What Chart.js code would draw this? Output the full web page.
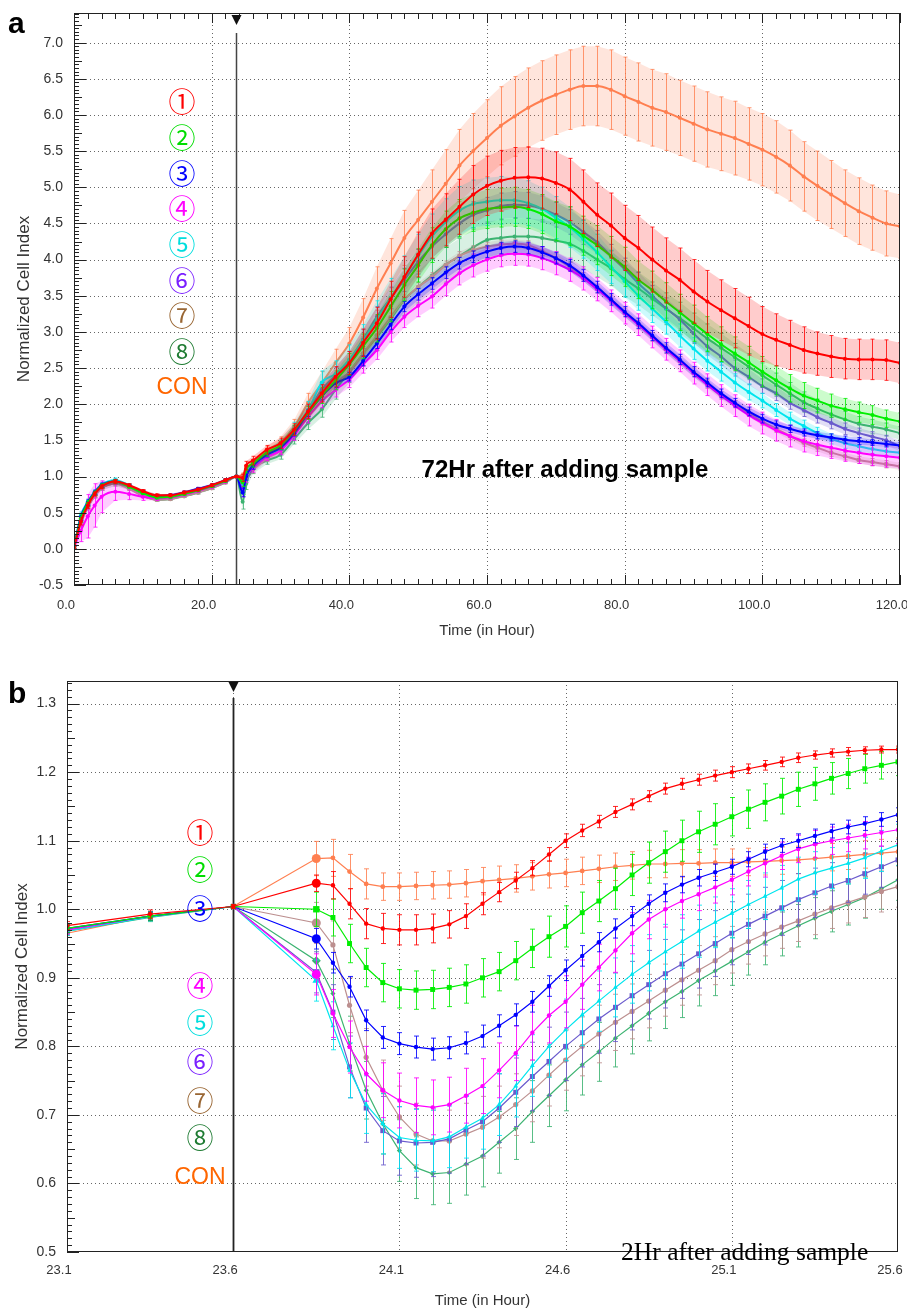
<!DOCTYPE html>
<html>
<head>
<meta charset="utf-8">
<script src="https://cdn.jsdelivr.net/npm/chart.js@4.4.0/dist/chart.umd.min.js"></script>
<style>
  body { margin: 0; background: #fff; }
  #wrap { position: relative; width: 907px; height: 1311px; overflow: hidden; background: #fff; }
  .box { position: absolute; left: 0; width: 907px; }
  #boxA { top: 0; height: 650px; }
  #boxB { top: 650px; height: 661px; }
  .tag { position: absolute; font: bold 30px 'Liberation Sans', Arial, sans-serif; line-height: 30px; color: #000; }
</style>
</head>
<body>
<div id="wrap">
  <div class="box" id="boxA"><canvas id="chartA"></canvas></div>
  <div class="box" id="boxB"><canvas id="chartB"></canvas></div>
  <div class="tag" style="left:8px;top:8px">a</div>
  <div class="tag" style="left:8px;top:678px">b</div>
</div>
<script>
// ---------- panel a : whole run (hours) ----------
const timeA = [0,1,2,3,4,6,8,10,12,14,16,18,20,22,23.6,24.5,25,26,
  28,30,32,34,36,38,40,42,44,46,48,50,52,54,56,58,60,62,64,66,68,70,72,74,76,78,80,82,84,86,
  88,90,92,94,96,98,100,102,104,106,108,110,112,114,116,118,120];
const ticksXA = [0,20,40,60,80,100,120];
const ticksYA = [-0.5,0,0.5,1,1.5,2,2.5,3,3.5,4,4.5,5,5.5,6,6.5,7];

const s1A = [0.02,0.38,0.6,0.76,0.86,0.93,0.88,0.8,0.74,0.74,0.78,0.82,0.88,0.95,1.0, 0.98,1.15,1.22,
  1.37,1.46,1.65,1.9,2.15,2.38,2.57,2.85,3.12,3.45, 3.76,4.07,4.36,4.55,4.73,4.9,5.02,5.09,5.13,5.14,
  5.12,5.06,4.97,4.8,4.62,4.47,4.3,4.16,4.0,3.85, 3.72,3.56,3.42,3.3,3.19,3.08,2.97,2.89,2.82,2.75,
  2.7,2.66,2.63,2.62,2.62,2.61,2.57];
const s2A = [0.02,0.42,0.63,0.77,0.87,0.93,0.86,0.77,0.71,0.72,0.76,0.81,0.87,0.94,1.0, 0.92,1.1,1.18,
  1.33,1.43,1.64,1.88,2.12,2.33,2.55,2.8,3.05,3.35, 3.65,3.92,4.2,4.42,4.57,4.65,4.7,4.72,4.73,4.7,
  4.63,4.53,4.46,4.33,4.2,4.05,3.9,3.72,3.58,3.42, 3.27,3.12,2.97,2.83,2.7,2.58,2.45,2.33,2.22,2.12,
  2.05,1.98,1.93,1.89,1.85,1.8,1.76];
const s3A = [0.02,0.44,0.64,0.78,0.88,0.93,0.87,0.79,0.73,0.74,0.78,0.83,0.88,0.95,1.0, 0.78,1.0,1.15,
  1.3,1.4,1.6,1.88,2.11,2.29,2.38,2.6,2.84,3.1, 3.35,3.52,3.67,3.82,3.95,4.04,4.11,4.16,4.18,4.16,
  4.1,4.02,3.92,3.78,3.62,3.45,3.28,3.12,2.95,2.78, 2.62,2.45,2.3,2.15,2.02,1.9,1.8,1.72,1.66,1.61,
  1.57,1.54,1.51,1.49,1.47,1.45,1.43];
const s4A = [0.02,0.25,0.45,0.6,0.72,0.79,0.76,0.72,0.7,0.71,0.75,0.8,0.86,0.93,1.0, 0.82,1.0,1.12,
  1.27,1.36,1.57,1.82,2.04,2.2,2.34,2.55,2.75,3.0, 3.21,3.36,3.49,3.66,3.81,3.92,4.0,4.06,4.08,4.07,
  4.02,3.95,3.86,3.74,3.59,3.43,3.26,3.1,2.93,2.76, 2.6,2.43,2.27,2.12,1.98,1.85,1.74,1.64,1.56,1.49,
  1.44,1.4,1.36,1.33,1.3,1.28,1.26];
const s5A = [0.02,0.46,0.65,0.79,0.89,0.95,0.88,0.78,0.72,0.73,0.77,0.82,0.87,0.94,1.0, 0.9,1.05,1.17,
  1.32,1.44,1.66,1.92,2.3,2.42,2.62,2.88,3.18,3.47, 3.76,4.05,4.32,4.52,4.68,4.77,4.8,4.82,4.82,4.78,
  4.7,4.58,4.45,4.28,4.1,3.9,3.7,3.5,3.32,3.14, 2.95,2.77,2.6,2.45,2.3,2.17,2.05,1.92,1.8,1.7,
  1.6,1.52,1.46,1.42,1.38,1.35,1.33];
const s6A = [0.02,0.42,0.62,0.77,0.87,0.93,0.87,0.78,0.72,0.73,0.77,0.82,0.87,0.94,1.0, 0.85,1.02,1.16,
  1.3,1.42,1.64,1.9,2.2,2.4,2.61,2.9,3.21,3.47, 3.72,3.97,4.18,4.35,4.5,4.62,4.68,4.74,4.76,4.75,
  4.7,4.62,4.52,4.38,4.24,4.05,3.87,3.67,3.5,3.33, 3.17,2.98,2.8,2.66,2.5,2.38,2.25,2.15,2.02,1.92,
  1.82,1.74,1.66,1.6,1.55,1.5,1.42];
const s7A = [0.02,0.36,0.58,0.73,0.84,0.9,0.83,0.73,0.68,0.69,0.73,0.78,0.84,0.92,1.0, 0.95,1.05,1.1,
  1.25,1.36,1.6,1.85,2.2,2.3,2.45,2.7,2.95,3.2, 3.45,3.62,3.76,3.92,4.05,4.13,4.18,4.21,4.22,4.2,
  4.12,4.02,3.9,3.76,3.6,3.45,3.27,3.1,2.93,2.76, 2.6,2.44,2.28,2.12,2.0,1.88,1.76,1.66,1.56,1.47,
  1.4,1.33,1.28,1.23,1.2,1.17,1.14];
const s8A = [0.01,0.37,0.58,0.74,0.84,0.9,0.84,0.74,0.68,0.69,0.73,0.78,0.84,0.92,1.0, 0.65,0.9,1.1,
  1.22,1.3,1.52,1.74,1.93,2.2,2.45,2.7,2.93,3.18, 3.44,3.62,3.78,3.93,4.05,4.17,4.27,4.3,4.32,4.32,
  4.3,4.26,4.22,4.12,4.0,3.88,3.73,3.6,3.46,3.32, 3.19,3.05,2.91,2.78,2.65,2.52,2.4,2.27,2.15,2.03,
  1.94,1.86,1.79,1.73,1.69,1.65,1.6];
const conA = [0.03,0.4,0.62,0.77,0.87,0.93,0.87,0.78,0.72,0.73,0.77,0.82,0.87,0.94,1.0, 1.02,1.08,1.18,
  1.35,1.47,1.69,2.02,2.29,2.57,2.84,3.2,3.6,3.95, 4.3,4.55,4.8,5.05,5.3,5.5,5.68,5.85,5.98,6.1,
  6.2,6.28,6.35,6.4,6.4,6.35,6.26,6.18,6.1,6.04, 5.96,5.88,5.8,5.74,5.68,5.6,5.52,5.42,5.3,5.15,
  5.02,4.9,4.78,4.67,4.58,4.5,4.46];

// standard deviations, same time points
const sd1A = [0.02,0.05,0.04,0.03,0.03,0.03,0.02,0.02,0.02,0.02,0.02,0.02,0.02,0.02,0.01, 0.05,0.06,0.06,
  0.06,0.07,0.08,0.1,0.12,0.14,0.16,0.19,0.22,0.25, 0.28,0.31,0.34,0.36,0.38,0.4,0.41,0.42,0.42,0.42,
  0.42,0.43,0.43,0.44,0.44,0.45,0.45,0.45,0.45,0.45, 0.44,0.44,0.43,0.42,0.41,0.4,0.38,0.36,0.34,0.32,
  0.3,0.29,0.28,0.28,0.28,0.28,0.28];
const sd2A = [0.02,0.05,0.04,0.03,0.03,0.03,0.02,0.02,0.02,0.02,0.02,0.02,0.02,0.02,0.01, 0.06,0.05,0.05,
  0.05,0.06,0.07,0.09,0.11,0.13,0.15,0.17,0.19,0.21, 0.22,0.23,0.24,0.25,0.26,0.26,0.27,0.27,0.27,0.27,
  0.27,0.27,0.27,0.27,0.27,0.27,0.27,0.26,0.26,0.26, 0.25,0.25,0.24,0.24,0.23,0.22,0.21,0.2,0.19,0.18,
  0.17,0.16,0.15,0.14,0.13,0.12,0.12];
const sd3A = [0.02,0.05,0.04,0.03,0.03,0.03,0.02,0.02,0.02,0.02,0.02,0.02,0.02,0.02,0.01, 0.06,0.05,0.05,
  0.03,0.03,0.04,0.05,0.05,0.06,0.06,0.07,0.07,0.07, 0.07,0.08,0.08,0.08,0.08,0.08,0.08,0.08,0.08,0.08,
  0.08,0.08,0.08,0.08,0.08,0.08,0.07,0.07,0.07,0.07, 0.07,0.07,0.06,0.06,0.06,0.06,0.06,0.05,0.05,0.05,
  0.05,0.05,0.05,0.05,0.04,0.04,0.04];
const sd4A = [0.02,0.15,0.3,0.3,0.22,0.12,0.08,0.05,0.03,0.02,0.02,0.02,0.02,0.02,0.01, 0.1,0.08,0.06,
  0.05,0.06,0.07,0.08,0.09,0.1,0.11,0.12,0.13,0.14, 0.15,0.15,0.16,0.16,0.16,0.16,0.16,0.16,0.16,0.16,
  0.16,0.16,0.16,0.16,0.16,0.15,0.15,0.15,0.15,0.15, 0.15,0.15,0.15,0.15,0.15,0.15,0.15,0.15,0.15,0.15,
  0.15,0.15,0.15,0.15,0.15,0.15,0.15];
const sd5A = [0.02,0.05,0.04,0.03,0.03,0.03,0.02,0.02,0.02,0.02,0.02,0.02,0.02,0.02,0.01, 0.06,0.05,0.05,
  0.05,0.07,0.09,0.12,0.16,0.18,0.2,0.22,0.25,0.27, 0.29,0.3,0.31,0.32,0.33,0.33,0.33,0.33,0.32,0.31,
  0.3,0.29,0.28,0.26,0.25,0.23,0.22,0.2,0.19,0.17, 0.16,0.15,0.14,0.13,0.12,0.11,0.1,0.09,0.09,0.08,
  0.08,0.07,0.07,0.07,0.06,0.06,0.06];
const sd6A = [0.02,0.05,0.04,0.03,0.03,0.03,0.02,0.02,0.02,0.02,0.02,0.02,0.02,0.02,0.01, 0.06,0.05,0.05,
  0.04,0.05,0.06,0.08,0.1,0.11,0.12,0.13,0.14,0.15, 0.16,0.17,0.17,0.18,0.18,0.18,0.18,0.18,0.18,0.18,
  0.18,0.17,0.17,0.17,0.16,0.16,0.15,0.15,0.14,0.14, 0.13,0.13,0.12,0.12,0.11,0.11,0.1,0.1,0.09,0.09,
  0.08,0.08,0.08,0.07,0.07,0.07,0.07];
const sd7A = [0.02,0.05,0.04,0.03,0.03,0.03,0.02,0.02,0.02,0.02,0.02,0.02,0.02,0.02,0.01, 0.06,0.05,0.05,
  0.04,0.04,0.05,0.05,0.05,0.05,0.05,0.06,0.06,0.06, 0.06,0.06,0.06,0.06,0.06,0.06,0.06,0.06,0.06,0.06,
  0.06,0.06,0.06,0.06,0.06,0.06,0.06,0.06,0.06,0.06, 0.06,0.06,0.06,0.05,0.05,0.05,0.05,0.05,0.05,0.05,
  0.05,0.05,0.05,0.05,0.05,0.05,0.05];
const sd8A = [0.02,0.05,0.04,0.03,0.03,0.03,0.02,0.02,0.02,0.02,0.02,0.02,0.02,0.02,0.01, 0.1,0.08,0.06,
  0.05,0.06,0.07,0.09,0.11,0.13,0.15,0.17,0.19,0.2, 0.21,0.22,0.23,0.24,0.24,0.25,0.25,0.25,0.25,0.25,
  0.25,0.25,0.25,0.25,0.24,0.24,0.24,0.23,0.23,0.22, 0.22,0.21,0.2,0.2,0.19,0.18,0.17,0.16,0.15,0.14,
  0.13,0.12,0.11,0.1,0.1,0.09,0.09];
const sdConA = [0.02,0.05,0.04,0.03,0.03,0.03,0.03,0.02,0.02,0.02,0.02,0.02,0.02,0.02,0.01, 0.03,0.04,0.05,
  0.06,0.08,0.1,0.13,0.16,0.19,0.22,0.26,0.3,0.34, 0.38,0.41,0.44,0.47,0.5,0.52,0.53,0.54,0.55,0.55,
  0.55,0.55,0.55,0.55,0.55,0.55,0.54,0.54,0.53,0.53, 0.52,0.52,0.52,0.51,0.51,0.5,0.5,0.5,0.49,0.48,
  0.48,0.47,0.46,0.46,0.45,0.45,0.44];

// ---------- panel b : around sample addition (hours) ----------
const timeB = [23.1,23.35,23.6, 23.85,23.9,23.95,24.0,24.05,24.1,24.15,24.2,24.25,24.3,
  24.35,24.4,24.45,24.5,24.55,24.6,24.65,24.7,24.75,24.8, 24.85,24.9,24.95,25.0,25.05,25.1,25.15,25.2,25.25,25.3,
  25.35,25.4,25.45,25.5,25.55,25.6];
const ticksXB = [23.1,23.6,24.1,24.6,25.1,25.6];
const ticksYB = [0.5,0.6,0.7,0.8,0.9,1.0,1.1,1.2,1.3];

const s1B = [0.976,0.993,1.004, 1.038,1.035,1.008,0.979,0.972,0.970,0.970,0.972,0.978,0.99,
  1.008,1.025,1.042,1.06,1.08,1.1,1.115,1.128,1.142,1.153, 1.165,1.176,1.183,1.189,1.195,1.2,1.205,1.21,1.215,1.221,
  1.225,1.228,1.23,1.232,1.233,1.233];
const s2B = [0.972,0.99,1.004, 1.0,0.988,0.95,0.915,0.893,0.884,0.882,0.883,0.886,0.891,
  0.9,0.909,0.925,0.943,0.96,0.975,0.995,1.012,1.03,1.05, 1.068,1.084,1.1,1.113,1.124,1.135,1.146,1.156,1.165,1.175,
  1.183,1.191,1.198,1.205,1.21,1.215];
const s3B = [0.972,0.99,1.004, 0.957,0.922,0.887,0.838,0.813,0.804,0.799,0.796,0.798,0.805,
  0.815,0.83,0.846,0.865,0.888,0.911,0.932,0.952,0.972,0.99, 1.008,1.024,1.036,1.046,1.054,1.062,1.073,1.084,1.093,1.1,
  1.107,1.114,1.12,1.125,1.131,1.138];
const s4B = [0.97,0.99,1.004, 0.905,0.848,0.799,0.76,0.736,0.721,0.714,0.711,0.715,0.728,
  0.742,0.765,0.79,0.82,0.845,0.865,0.89,0.915,0.94,0.965, 0.985,1.0,1.012,1.022,1.032,1.043,1.055,1.067,1.078,1.088,
  1.095,1.1,1.104,1.108,1.112,1.116];
const s5B = [0.968,0.989,1.004, 0.896,0.83,0.765,0.715,0.687,0.667,0.663,0.662,0.668,0.682,
  0.695,0.715,0.742,0.772,0.8,0.824,0.846,0.866,0.886,0.905, 0.922,0.938,0.953,0.968,0.981,0.994,1.007,1.019,1.031,1.044,
  1.053,1.06,1.067,1.075,1.085,1.094];
const s6B = [0.97,0.99,1.004, 0.908,0.85,0.77,0.71,0.677,0.662,0.659,0.66,0.665,0.678,
  0.69,0.71,0.733,0.756,0.778,0.8,0.82,0.84,0.857,0.874, 0.89,0.906,0.92,0.935,0.95,0.965,0.978,0.99,1.002,1.014,
  1.024,1.034,1.042,1.052,1.062,1.072];
const s7B = [0.97,0.99,1.004, 0.98,0.948,0.86,0.784,0.736,0.697,0.672,0.662,0.662,0.672,
  0.682,0.697,0.715,0.735,0.758,0.78,0.8,0.818,0.835,0.851, 0.866,0.882,0.897,0.911,0.925,0.941,0.953,0.964,0.974,0.983,
  0.993,1.002,1.01,1.018,1.026,1.033];
const s8B = [0.968,0.988,1.004, 0.925,0.877,0.804,0.736,0.687,0.648,0.623,0.614,0.616,0.628,
  0.64,0.66,0.68,0.705,0.728,0.751,0.773,0.792,0.812,0.83, 0.848,0.865,0.88,0.896,0.91,0.924,0.938,0.952,0.964,0.976,
  0.987,0.997,1.007,1.017,1.03,1.043];
const conB = [0.965,0.99,1.004, 1.074,1.075,1.055,1.037,1.033,1.033,1.034,1.035,1.036,1.038,
  1.041,1.043,1.045,1.048,1.051,1.053,1.056,1.059,1.062,1.064, 1.066,1.066,1.067,1.067,1.068,1.068,1.069,1.07,1.071,1.072,
  1.074,1.076,1.078,1.08,1.082,1.084];

const sd1B = [0.006,0.006,0.003, 0.012,0.02,0.022,0.022,0.022,0.022,0.022,0.021,0.02,0.018,
  0.016,0.014,0.012,0.011,0.01,0.01,0.009,0.009,0.008,0.008, 0.008,0.008,0.008,0.008,0.008,0.008,0.007,0.007,0.007,0.007,
  0.006,0.006,0.006,0.005,0.005,0.005];
const sd2B = [0.006,0.006,0.003, 0.025,0.027,0.028,0.028,0.028,0.028,0.028,0.028,0.028,0.028,
  0.028,0.028,0.028,0.028,0.03,0.03,0.03,0.03,0.03,0.03, 0.03,0.03,0.03,0.03,0.03,0.028,0.028,0.027,0.026,0.025,
  0.024,0.023,0.022,0.021,0.02,0.02];
const sd3B = [0.006,0.006,0.003, 0.015,0.015,0.015,0.015,0.016,0.016,0.016,0.016,0.016,0.016,
  0.016,0.016,0.016,0.015,0.015,0.015,0.015,0.014,0.014,0.014, 0.013,0.013,0.012,0.012,0.012,0.011,0.011,0.011,0.01,0.01,
  0.01,0.01,0.01,0.01,0.01,0.01];
const sd4B = [0.006,0.006,0.003, 0.03,0.035,0.038,0.04,0.04,0.04,0.04,0.04,0.04,0.04,
  0.04,0.04,0.04,0.04,0.04,0.038,0.036,0.034,0.032,0.03, 0.028,0.026,0.025,0.024,0.023,0.022,0.021,0.02,0.02,0.02,
  0.02,0.02,0.02,0.02,0.02,0.02];
const sd5B = [0.006,0.006,0.003, 0.03,0.035,0.04,0.042,0.044,0.045,0.045,0.045,0.045,0.045,
  0.045,0.045,0.045,0.045,0.045,0.045,0.045,0.044,0.043,0.042, 0.041,0.04,0.039,0.038,0.037,0.036,0.035,0.034,0.033,0.032,
  0.031,0.03,0.03,0.03,0.03,0.03];
const sd6B = [0.006,0.006,0.003, 0.03,0.04,0.045,0.05,0.05,0.05,0.05,0.05,0.05,0.05,
  0.05,0.05,0.05,0.05,0.05,0.05,0.05,0.05,0.05,0.05, 0.05,0.05,0.05,0.05,0.048,0.046,0.044,0.042,0.04,0.038,
  0.036,0.034,0.032,0.03,0.03,0.03];
const sd7B = [0.006,0.006,0.003, 0.03,0.035,0.04,0.042,0.044,0.045,0.045,0.045,0.045,0.045,
  0.045,0.045,0.045,0.045,0.045,0.044,0.043,0.042,0.041,0.04, 0.039,0.038,0.037,0.036,0.035,0.034,0.033,0.032,0.031,0.03,
  0.03,0.03,0.03,0.03,0.03,0.03];
const sd8B = [0.006,0.006,0.003, 0.03,0.035,0.04,0.042,0.044,0.045,0.045,0.045,0.045,0.045,
  0.045,0.045,0.045,0.045,0.045,0.045,0.044,0.043,0.042,0.041, 0.04,0.039,0.038,0.037,0.036,0.035,0.034,0.033,0.032,0.031,
  0.03,0.03,0.03,0.03,0.03,0.03];
const sdConB = [0.006,0.006,0.003, 0.025,0.027,0.025,0.022,0.02,0.02,0.02,0.02,0.02,0.02,
  0.02,0.02,0.02,0.02,0.02,0.02,0.02,0.02,0.02,0.02, 0.02,0.02,0.02,0.02,0.02,0.02,0.02,0.02,0.02,0.02,
  0.02,0.02,0.02,0.02,0.02,0.02];

const seriesNames = ['①','②','③','④','⑤','⑥','⑦','⑧','CON'];
const lineColors = ['#ff0000','#00ee00','#0000ff','#ff00ff','#00e5ee','#6a5acd','#bc8f8f','#3cb371','#ff7f50'];
const labelColors = ['#ff0000','#00dd00','#0000ff','#ff00ff','#00dede','#7a1fff','#996633','#1e7b32','#ff6600'];
const addTime = 23.6;

Chart.defaults.font.family = "'Liberation Sans', Arial, Helvetica, sans-serif";
Chart.defaults.color = '#333';

function withAlpha(hex, a) {
  const n = parseInt(hex.slice(1), 16);
  return 'rgba(' + (n >> 16) + ',' + ((n >> 8) & 255) + ',' + (n & 255) + ',' + a + ')';
}

// error bars (and a faint spread band) drawn just before each line, through the chart's scales
const errorBars = {
  id: 'errorBars',
  beforeDatasetDraw(chart, args, o) {
    const ds = chart.data.datasets[args.index];
    if (!ds.sd) return;
    const { ctx, chartArea: a, scales: { x, y } } = chart;
    ctx.save();
    ctx.beginPath();
    ctx.rect(a.left, a.top, a.right - a.left, a.bottom - a.top);
    ctx.clip();
    if (o.band) {
      ctx.fillStyle = withAlpha(ds.borderColor, o.band);
      ctx.beginPath();
      ds.data.forEach((p, k) => {
        const px = x.getPixelForValue(p.x), py = y.getPixelForValue(p.y + ds.sd[k]);
        if (k) ctx.lineTo(px, py); else ctx.moveTo(px, py);
      });
      for (let k = ds.data.length - 1; k >= 0; k--) {
        const p = ds.data[k];
        ctx.lineTo(x.getPixelForValue(p.x), y.getPixelForValue(p.y - ds.sd[k]));
      }
      ctx.closePath();
      ctx.fill();
    }
    ctx.strokeStyle = withAlpha(ds.borderColor, o.alpha);
    ctx.lineWidth = 1;
    ctx.beginPath();
    ds.data.forEach((p, k) => {
      const e = ds.sd[k];
      const px = Math.round(x.getPixelForValue(p.x)) + 0.5;
      const y1 = y.getPixelForValue(p.y + e), y2 = y.getPixelForValue(p.y - e);
      ctx.moveTo(px, y1); ctx.lineTo(px, y2);
      ctx.moveTo(px - o.cap, y1); ctx.lineTo(px + o.cap, y1);
      ctx.moveTo(px - o.cap, y2); ctx.lineTo(px + o.cap, y2);
    });
    ctx.stroke();
    ctx.restore();
  }
};

function tickRun(min, max, step, every, mid, fn) {
  const k0 = Math.ceil(min / step - 1e-6), k1 = Math.floor(max / step + 1e-6);
  for (let k = k0; k <= k1; k++) {
    fn(k * step, k % every === 0 ? 12 : (mid && k % mid === 0 ? 8 : 5));
  }
}

// dotted grid, frame with inward ticks, sample-addition marker and the text labels
const decorations = {
  id: 'decorations',
  beforeDatasetsDraw(chart, args, o) {
    const { ctx, chartArea: a, scales: { x, y } } = chart;
    ctx.save();
    ctx.lineWidth = 1;
    ctx.strokeStyle = '#666';
    ctx.setLineDash([1, 3]);
    ctx.beginPath();
    x.ticks.forEach(t => {
      const px = Math.round(x.getPixelForValue(t.value)) + 0.5;
      if (px > a.left + 3 && px < a.right - 3) { ctx.moveTo(px, a.top); ctx.lineTo(px, a.bottom); }
    });
    y.ticks.forEach(t => {
      const py = Math.round(y.getPixelForValue(t.value)) + 0.5;
      if (py > a.top + 3 && py < a.bottom - 3) { ctx.moveTo(a.left, py); ctx.lineTo(a.right, py); }
    });
    ctx.stroke();
    ctx.setLineDash([]);
    const ax = Math.round(x.getPixelForValue(o.addTime)) + 0.5;
    ctx.strokeStyle = o.addColor;
    ctx.lineWidth = o.addWidth;
    ctx.beginPath();
    ctx.moveTo(ax, a.top + o.addGap);
    ctx.lineTo(ax, a.bottom);
    ctx.stroke();
    ctx.restore();
  },
  afterDraw(chart, args, o) {
    const { ctx, chartArea: a, scales: { x, y } } = chart;
    ctx.save();
    ctx.strokeStyle = '#222';
    ctx.lineWidth = 1;
    ctx.strokeRect(a.left + 0.5, a.top + 0.5, a.right - a.left - 1, a.bottom - a.top - 1);
    ctx.beginPath();
    tickRun(y.min, y.max, o.yStep, o.yEvery, o.yMid, (v, len) => {
      const py = Math.round(y.getPixelForValue(v)) + 0.5;
      ctx.moveTo(a.left, py); ctx.lineTo(a.left + len, py);
    });
    if (o.xStep) {
      tickRun(x.min, x.max, o.xStep, o.xEvery, 0, (v, len) => {
        const px = Math.round(x.getPixelForValue(v)) + 0.5;
        const l = len > 8 ? 10 : 6;
        ctx.moveTo(px, a.bottom); ctx.lineTo(px, a.bottom - l);
        ctx.moveTo(px, a.top); ctx.lineTo(px, a.top + l);
      });
    }
    ctx.stroke();
    // marker triangle
    const ax = Math.round(x.getPixelForValue(o.addTime)) + 0.5;
    ctx.fillStyle = '#111';
    ctx.beginPath();
    ctx.moveTo(ax - 5, a.top + o.triTop);
    ctx.lineTo(ax + 5, a.top + o.triTop);
    ctx.lineTo(ax, a.top + o.triTop + 10);
    ctx.closePath();
    ctx.fill();
    // series labels
    ctx.textAlign = 'center';
    ctx.textBaseline = 'middle';
    seriesNames.forEach((s, i) => {
      ctx.font = i < 8 ? "27px 'Noto Sans CJK JP', 'DejaVu Sans', sans-serif" : "23px 'Liberation Sans', Arial, sans-serif";
      ctx.fillStyle = labelColors[i];
      ctx.fillText(s, x.getPixelForValue(o.markX), y.getPixelForValue(o.markY[i]));
    });
    o.notes.forEach(n => {
      ctx.font = n.font;
      ctx.fillStyle = '#000';
      ctx.textAlign = 'left';
      ctx.textBaseline = 'alphabetic';
      ctx.fillText(n.text, x.getPixelForValue(n.x), y.getPixelForValue(n.y));
    });
    ctx.restore();
  }
};

function makeSets(time, vals, sds, style) {
  return vals.map((v, i) => ({
    label: seriesNames[i],
    data: time.map((t, k) => ({ x: t, y: v[k] })),
    sd: sds[i],
    borderColor: lineColors[i],
    backgroundColor: lineColors[i],
    borderWidth: style.lw,
    pointStyle: style.shapes[i],
    pointRadius: c => (style.bigIndex === c.dataIndex ? style.big : style.radius[i]),
    pointBorderWidth: 0,
    cubicInterpolationMode: style.mode,
    tension: 0
  }));
}

function axisX(min, max, ticks, height, pad, titlePad) {
  return {
    type: 'linear', min: min, max: max,
    afterBuildTicks: s => { s.ticks = ticks.map(v => ({ value: v })); },
    afterFit: s => { s.height = height; s.paddingLeft = 0; s.paddingRight = 0; },
    grid: { display: false, drawTicks: false }, border: { display: false },
    ticks: { padding: pad, labelOffset: -8, autoSkip: false, maxRotation: 0, font: { size: 13 }, color: '#333',
      callback: v => Number(v).toFixed(1) },
    title: { display: true, text: 'Time (in Hour)', font: { size: 15 }, color: '#333', padding: { top: 0, bottom: titlePad } }
  };
}

function axisY(min, max, ticks, width, titlePad) {
  return {
    min: min, max: max,
    afterBuildTicks: s => { s.ticks = ticks.map(v => ({ value: v })); },
    afterFit: s => { s.width = width; s.paddingTop = 0; s.paddingBottom = 0; },
    grid: { display: false, drawTicks: false }, border: { display: false },
    ticks: { padding: 11, autoSkip: false, font: { size: 14 }, color: '#333', callback: v => Number(v).toFixed(1) },
    title: { display: true, text: 'Normalized Cell Index', font: { size: 17 }, color: '#333', padding: { top: titlePad, bottom: 0 } }
  };
}

new Chart(document.getElementById('chartA'), {
  type: 'line',
  data: {
    datasets: makeSets(timeA,
      [s1A, s2A, s3A, s4A, s5A, s6A, s7A, s8A, conA],
      [sd1A, sd2A, sd3A, sd4A, sd5A, sd6A, sd7A, sd8A, sdConA],
      { lw: 2, mode: 'monotone', shapes: Array(9).fill('circle'), radius: [2,2,2,2,2,2,2.4,2,2], bigIndex: -1, big: 0 })
  },
  options: {
    responsive: true, maintainAspectRatio: false, animation: false,
    layout: { padding: { left: 0, right: 7, top: 13, bottom: 0 } },
    scales: { x: axisX(0, 120, ticksXA, 65, 13, 10), y: axisY(-0.5, 7.41, ticksYA, 74, 14) },
    plugins: {
      legend: { display: false }, tooltip: { enabled: false },
      errorBars: { alpha: 0.8, cap: 2, band: 0.2 },
      decorations: {
        addTime: addTime, addColor: '#444', addWidth: 1.5, addGap: 20, triTop: 2,
        yStep: 0.05, yEvery: 10, yMid: 5, xStep: 2, xEvery: 10,
        markX: 15.7, markY: [6.18, 5.69, 5.19, 4.70, 4.20, 3.71, 3.22, 2.72, 2.23],
        notes: [{ text: '72Hr after adding sample', x: 50.5, y: 1.0, font: "bold 24px 'Liberation Sans', Arial, sans-serif" }]
      }
    }
  },
  plugins: [errorBars, decorations]
});

new Chart(document.getElementById('chartB'), {
  type: 'line',
  data: {
    datasets: makeSets(timeB,
      [s1B, s2B, s3B, s4B, s5B, s6B, s7B, s8B, conB],
      [sd1B, sd2B, sd3B, sd4B, sd5B, sd6B, sd7B, sd8B, sdConB],
      { lw: 1.2, mode: 'default', shapes: ['circle','rect','circle','circle','triangle','rect','circle','rectRot','circle'],
        radius: [2.2, 3.5, 2.2, 2.2, 2.8, 3.5, 2.6, 2.6, 2.4], bigIndex: 3, big: 4.5 })
  },
  options: {
    responsive: true, maintainAspectRatio: false, animation: false,
    layout: { padding: { left: 0, right: 9, top: 31, bottom: 0 } },
    scales: { x: axisX(23.1, 25.6, ticksXB, 59, 11, 1), y: axisY(0.5, 1.333, ticksYB, 67, 12) },
    plugins: {
      legend: { display: false }, tooltip: { enabled: false },
      errorBars: { alpha: 0.85, cap: 2.5, band: 0 },
      decorations: {
        addTime: addTime, addColor: '#222', addWidth: 1.8, addGap: 17, triTop: 1,
        yStep: 0.01, yEvery: 10, yMid: 5, xStep: 0,
        markX: 23.5, markY: [1.111, 1.058, 1.001, 0.888, 0.834, 0.777, 0.721, 0.666, 0.609],
        notes: [{ text: '2Hr after adding sample', x: 24.767, y: 0.488, font: "25.5px 'Liberation Serif', 'Times New Roman', serif" }]
      }
    }
  },
  plugins: [errorBars, decorations]
});
</script>
</body>
</html>
